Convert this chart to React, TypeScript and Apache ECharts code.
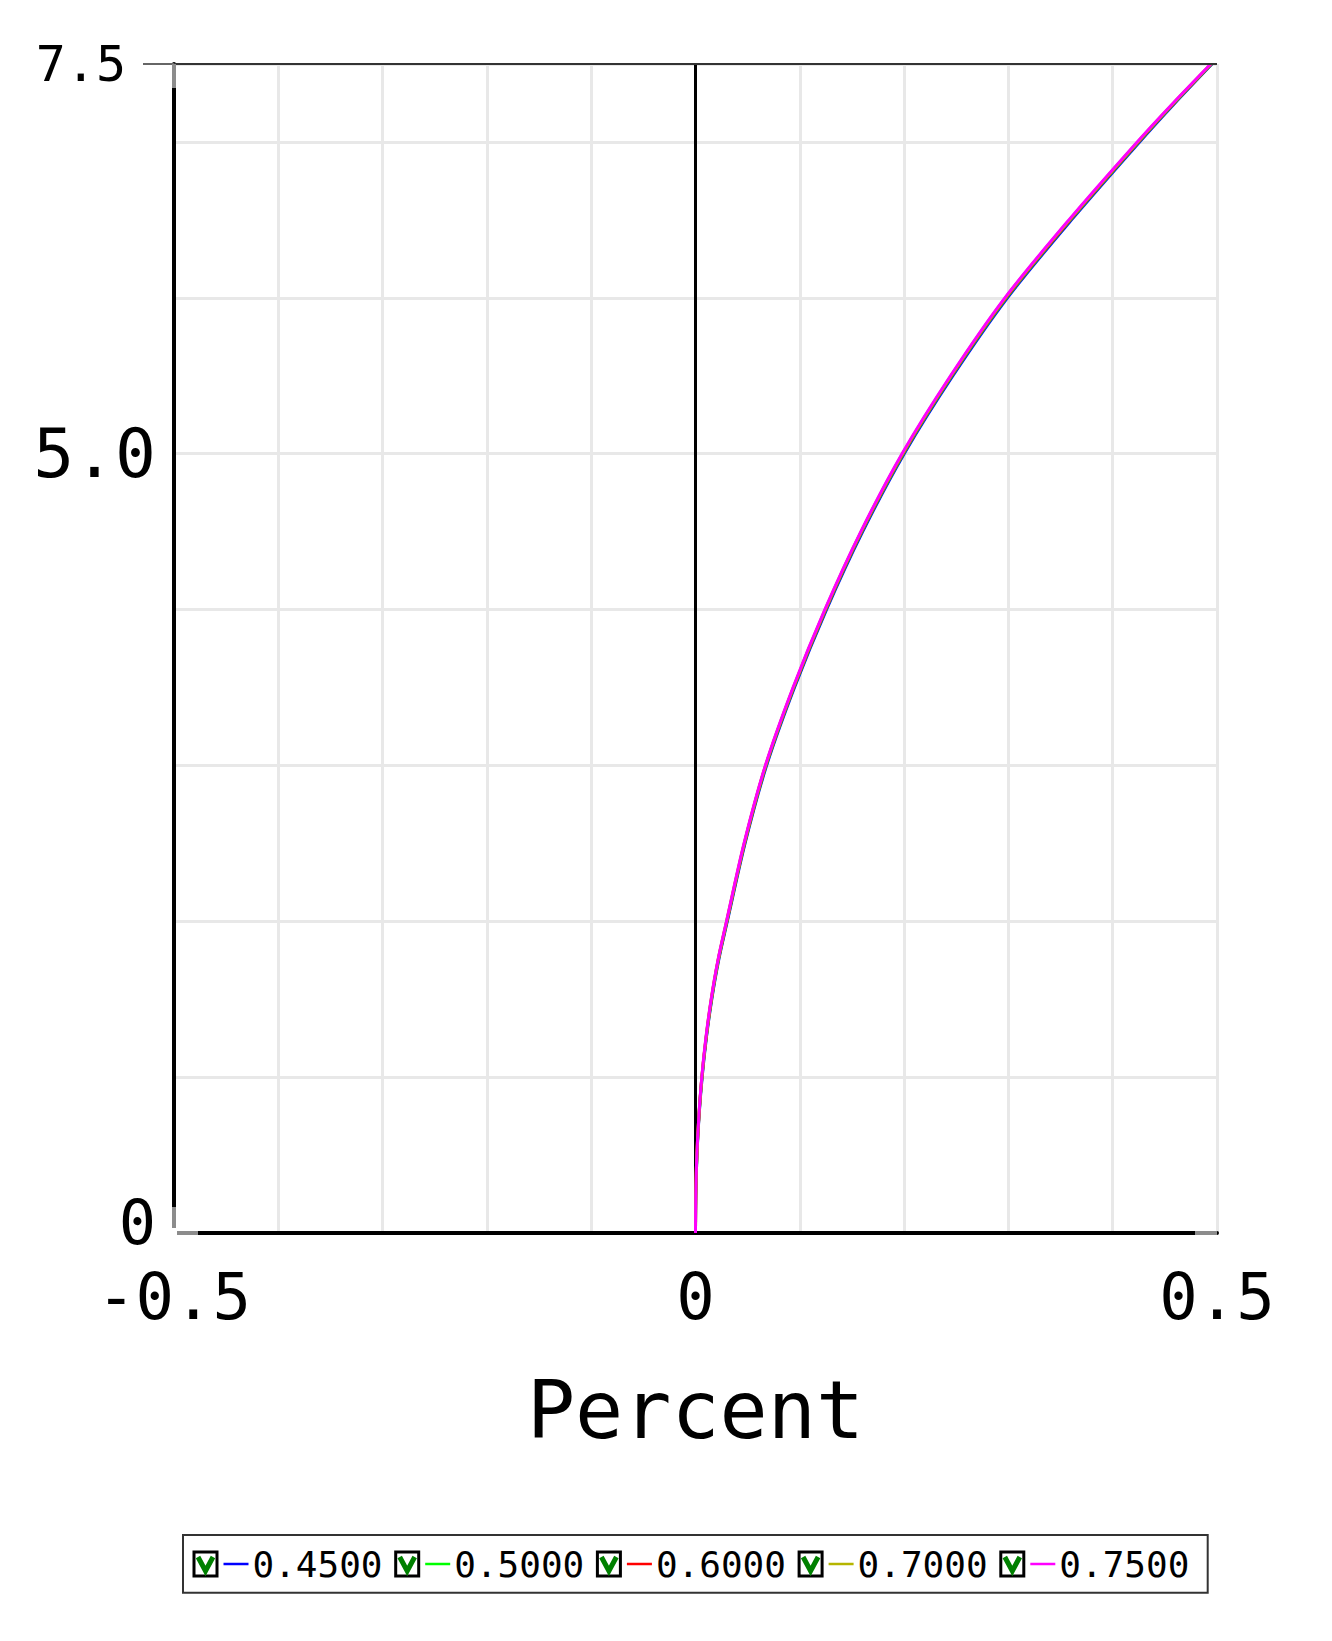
import React, { useEffect, useRef } from "react";
import * as echarts from "echarts";

const FONT = "'DejaVu Sans Mono', monospace";

const seriesNames = ["0.4500", "0.5000", "0.6000", "0.7000", "0.7500"];
const seriesColors = ["#0000ff", "#00ff00", "#ff0000", "#b5b500", "#ff00ff"];

// Y values (shared levels along the curves)
const yLevels = [0, 0.25, 0.5, 0.75, 1, 1.25, 1.5, 1.75, 2, 2.5, 3, 3.5, 4, 4.5, 5, 5.5, 6, 6.5, 7, 7.25, 7.5];

// Percent (x) values read for each series at those levels
const pct0450 = [0, 0.0003, 0.0014, 0.0034, 0.0064, 0.0104, 0.0156, 0.0222, 0.0305, 0.0475, 0.0682, 0.0949, 0.1256, 0.1603, 0.2001, 0.2468, 0.2991, 0.3605, 0.4258, 0.4598, 0.4952];
const pct0500 = [0, 0.0003, 0.0014, 0.0033, 0.0062, 0.0102, 0.0154, 0.0219, 0.0302, 0.0471, 0.0677, 0.0943, 0.1249, 0.1595, 0.1993, 0.2458, 0.2981, 0.3595, 0.4249, 0.4591, 0.4948];
const pct0600 = [0, 0.0003, 0.0013, 0.0033, 0.0061, 0.0101, 0.0152, 0.0217, 0.03, 0.0469, 0.0674, 0.094, 0.1246, 0.1591, 0.1988, 0.2453, 0.2975, 0.359, 0.4244, 0.4587, 0.4945];
const pct0700 = [0, 0.0003, 0.0013, 0.0032, 0.0061, 0.01, 0.0151, 0.0216, 0.0298, 0.0467, 0.0672, 0.0938, 0.1243, 0.1588, 0.1985, 0.245, 0.2971, 0.3586, 0.424, 0.4584, 0.4943];
const pct0750 = [0, 0.0003, 0.0013, 0.0032, 0.006, 0.0099, 0.015, 0.0215, 0.0297, 0.0465, 0.067, 0.0935, 0.124, 0.1585, 0.198, 0.2445, 0.2966, 0.358, 0.4235, 0.458, 0.494];

const seriesPct = [pct0450, pct0500, pct0600, pct0700, pct0750];

const xTickLabels: [number, string][] = [[-0.5, "-0.5"], [0, "0"], [0.5, "0.5"]];
const yTickLabels: [number, string][] = [[0, "0"], [5, "5.0"], [7.5, "7.5"]];

export default function App() {
  const ref = useRef<HTMLDivElement>(null);

  useEffect(() => {
    if (!ref.current) return;
    const chart = echarts.init(ref.current, null, { renderer: "svg" });

    const gridLeft = 174;
    const gridTop = 64;
    const gridRight = 1217;
    const gridBottom = 1233;

    const series: any[] = seriesNames.map((name, si) => ({
      name,
      type: "line",
      data: yLevels.map((y, i) => [seriesPct[si][i], y]),
      showSymbol: false,
      symbol: "none",
      smooth: 0.3,
      lineStyle: { color: seriesColors[si], width: 3 },
      itemStyle: { color: seriesColors[si] },
      z: 3 + si,
      ...(si === 0
        ? {
            markLine: {
              silent: true,
              symbol: "none",
              label: { show: false },
              lineStyle: { color: "#000", width: 3, type: "solid" },
              data: [{ xAxis: 0 }],
            },
          }
        : {}),
    }));

    const legendLeft = 192.5;
    const legendPitch = 201.7;
    const legendY = 1564;
    const legendEls: any[] = [
      {
        type: "rect",
        z: 100,
        shape: { x: 183, y: 1535, width: 1024.7, height: 57.7 },
        style: { fill: "#fff", stroke: "#333", lineWidth: 2 },
      },
    ];
    seriesNames.forEach((name, i) => {
      const s = legendLeft + legendPitch * i;
      legendEls.push({
        type: "rect",
        z: 101,
        shape: { x: s + 1.5, y: 1552, width: 23, height: 24 },
        style: { fill: "#fff", stroke: "#000", lineWidth: 3 },
      });
      legendEls.push({
        type: "polyline",
        z: 102,
        shape: { points: [[s + 5.5, 1557], [s + 13, 1571], [s + 20.5, 1557]] },
        style: { stroke: "#008000", lineWidth: 5, fill: "none" },
      });
      legendEls.push({
        type: "line",
        z: 101,
        shape: { x1: s + 31, y1: legendY, x2: s + 56, y2: legendY },
        style: { stroke: seriesColors[i], lineWidth: 2.5 },
      });
      legendEls.push({
        type: "text",
        z: 101,
        x: s + 60,
        y: legendY,
        style: {
          text: name,
          font: `36px ${FONT}`,
          fill: "#000",
          verticalAlign: "middle",
          align: "left",
        },
      });
    });

    const axisEls: any[] = [
      { type: "line", z: 100, shape: { x1: 143, y1: gridTop, x2: gridLeft, y2: gridTop }, style: { stroke: "#666", lineWidth: 2 } },
      { type: "line", z: 100, shape: { x1: gridLeft, y1: gridTop, x2: gridRight, y2: gridTop }, style: { stroke: "#333", lineWidth: 2 } },
      { type: "rect", z: 100, shape: { x: 172, y: 64, width: 4, height: 24 }, style: { fill: "#8c8c8c" } },
      { type: "rect", z: 100, shape: { x: 172, y: 1207, width: 4, height: 21 }, style: { fill: "#8c8c8c" } },
      { type: "rect", z: 100, shape: { x: 171, y: 1228, width: 6, height: 8 }, style: { fill: "#fff" } },
      { type: "rect", z: 100, shape: { x: 177, y: 1231, width: 21, height: 4 }, style: { fill: "#8c8c8c" } },
      { type: "rect", z: 100, shape: { x: 1195, y: 1231, width: 22, height: 4 }, style: { fill: "#8c8c8c" } },
    ];

    const findLabel = (list: [number, string][], v: number) => {
      for (const [val, txt] of list) if (Math.abs(v - val) < 1e-9) return txt;
      return "";
    };

    chart.setOption({
      animation: false,
      backgroundColor: "#fff",
      textStyle: { fontFamily: FONT },
      grid: {
        left: gridLeft,
        top: gridTop,
        right: 1332 - gridRight,
        bottom: 1641 - gridBottom,
        containLabel: false,
      },
      xAxis: {
        type: "value",
        min: -0.5,
        max: 0.5,
        interval: 0.1,
        axisLine: { show: true, onZero: false, lineStyle: { color: "#000", width: 4 } },
        axisTick: { show: false },
        splitLine: { show: true, lineStyle: { color: "#e8e8e8", width: 3 } },
        axisLabel: {
          fontSize: 64,
          lineHeight: 58,
          fontFamily: FONT,
          color: "#000",
          margin: 35,
          showMinLabel: true,
          showMaxLabel: true,
          formatter: (v: number) => findLabel(xTickLabels, v),
        },
        name: "Percent",
        nameLocation: "middle",
        nameGap: 137,
        nameTextStyle: { fontSize: 80, fontFamily: FONT, color: "#000" },
      },
      yAxis: {
        type: "value",
        min: 0,
        max: 7.5,
        interval: 1,
        axisLine: { show: true, onZero: false, lineStyle: { color: "#000", width: 4 } },
        axisTick: { show: false },
        splitLine: { show: true, lineStyle: { color: "#e8e8e8", width: 3 } },
        axisLabel: {
          fontFamily: FONT,
          color: "#000",
          margin: 18,
          showMinLabel: true,
          showMaxLabel: true,
          formatter: (v: number) => {
            const t = findLabel(yTickLabels, v);
            if (!t) return "";
            if (Math.abs(v - 7.5) < 1e-9) return `{s|${t}}`;
            if (Math.abs(v) < 1e-9) return `{z|${t}}`;
            return `{b|${t}}`;
          },
          rich: {
            b: { fontSize: 68, lineHeight: 52, fontFamily: FONT, color: "#000" },
            z: { fontSize: 62, lineHeight: 46, fontFamily: FONT, color: "#000", padding: [0, 0, 22, 0] },
            s: { fontSize: 50, lineHeight: 42, fontFamily: FONT, color: "#000", padding: [0, 30, 0, 0] },
          },
        },
      },
      graphic: { elements: [...axisEls, ...legendEls] },
      series,
    });

    return () => chart.dispose();
  }, []);

  return (
    <div
      ref={ref}
      style={{ position: "fixed", left: 0, top: 0, width: 1332, height: 1641, background: "#fff" }}
    />
  );
}
